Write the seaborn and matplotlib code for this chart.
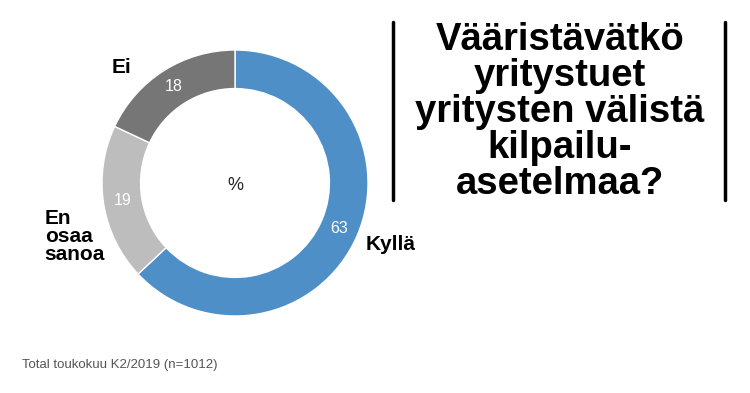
import matplotlib
matplotlib.use("Agg")
import matplotlib.pyplot as plt
import seaborn as sns

# data
labels = ["Kyllä", "En osaa sanoa", "Ei"]
values = [63, 19, 18]
colors = ["#4f8fc7", "#bdbdbd", "#767676"]
title_lines = ["Vääristävätkö", "yritystuet", "yritysten välistä", "kilpailu-", "asetelmaa?"]
footer = "Total toukokuu K2/2019 (n=1012)"

sns.set_theme(style="white")
plt.rcParams["font.family"] = ["Liberation Sans", "DejaVu Sans"]

fig = plt.figure(figsize=(7.5, 3.93), dpi=100)
W, H = 750, 393
cx, cy, r = 235, 183, 133
ax = fig.add_axes([(cx - r) / W, (H - cy - r) / H, 2 * r / W, 2 * r / H])

wedges, texts, autotexts = ax.pie(
    values, colors=colors, startangle=90, counterclock=False,
    wedgeprops=dict(width=0.29, edgecolor="white", linewidth=1),
    autopct=lambda p: f"{p:.0f}", pctdistance=0.855,
    textprops=dict(color="white", fontsize=11.5),
)
ax.set_xlim(-1, 1)
ax.set_ylim(-1, 1)
ax.set_aspect("equal")
ax.axis("off")

ax.text(0, -0.02, "%", ha="center", va="center", fontsize=13, color="#222222")

lab_kw = dict(fontsize=15, fontweight="bold", color="black")
ax.text(0.985, -0.466, labels[0], ha="left", va="center", **lab_kw)
ax.text(-1.43, -0.40, "En\nosaa\nsanoa", ha="left", va="center", linespacing=0.93, **lab_kw)
ax.text(-0.85, 0.865, labels[2], ha="center", va="center", **lab_kw)

# title with bars
fig.text(560 / W, 1 - 112 / H, "\n".join(title_lines), ha="center", va="center",
         fontsize=27.5, fontweight="bold", linespacing=1.0, color="black")
for x in (393, 725):
    fig.add_artist(plt.Line2D([x / W, x / W], [1 - 22 / H, 1 - 200 / H],
                              color="black", linewidth=2.5))

fig.text(22 / W, 1 - 365 / H, footer, ha="left", va="center", fontsize=9.5, color="#555555")

fig.savefig("out.png", dpi=100)
